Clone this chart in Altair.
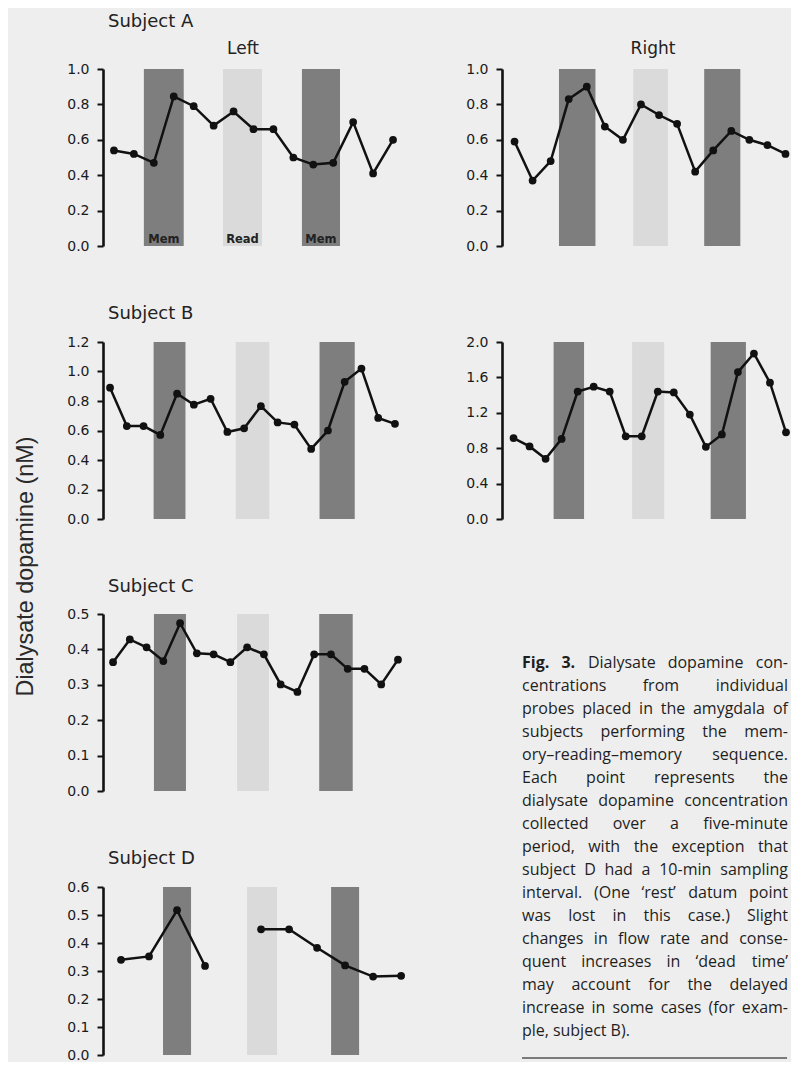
import altair as alt
import pandas as pd

# ---------------- data ----------------
# sample index runs 1..n (5-min samples; subject D: 10-min samples, one lost)
a_left = [0.54, 0.52, 0.47, 0.845, 0.79, 0.68, 0.76, 0.66, 0.66, 0.50, 0.46, 0.47, 0.70, 0.41, 0.60]
a_right = [0.59, 0.37, 0.48, 0.83, 0.90, 0.675, 0.60, 0.80, 0.74, 0.69, 0.42, 0.54, 0.65, 0.60, 0.57, 0.52]
b_left = [0.89, 0.63, 0.63, 0.57, 0.85, 0.775, 0.815, 0.59, 0.615, 0.765, 0.655, 0.64, 0.475, 0.60, 0.93, 1.02, 0.685, 0.645]
b_right = [0.915, 0.82, 0.68, 0.905, 1.44, 1.495, 1.44, 0.935, 0.935, 1.44, 1.43, 1.18, 0.815, 0.955, 1.66, 1.87, 1.54, 0.98]
c_left = [0.364, 0.428, 0.406, 0.367, 0.474, 0.389, 0.386, 0.364, 0.406, 0.386, 0.301, 0.28, 0.386, 0.386, 0.345, 0.345, 0.301, 0.371]
d_left = [0.34, 0.352, 0.517, 0.318, None, 0.449, 0.449, 0.383, 0.32, 0.28, 0.283]

# task periods in sample-index units: memory, reading, memory
period_kinds = ["Mem", "Read", "Mem"]
a_left_periods = [(2.5, 4.5), (6.47, 8.43), (10.43, 12.34)]
a_right_periods = [(3.46, 5.48), (7.57, 9.49), (11.5, 13.5)]
b_left_periods = [(3.6, 5.5), (8.5, 10.5), (13.5, 15.6)]
b_right_periods = [(3.5, 5.4), (8.4, 10.4), (13.3, 15.5)]
c_periods = [(3.44, 5.35), (8.4, 10.3), (13.3, 15.3)]
d_periods = [(2.5, 3.5), (5.5, 6.57), (8.5, 9.5)]

y_title = "Dialysate dopamine (nM)"
caption_lines = [
    "Fig. 3. Dialysate dopamine con-",
    "centrations from individual",
    "probes placed in the amygdala of",
    "subjects performing the mem-",
    "ory–reading–memory sequence.",
    "Each point represents the",
    "dialysate dopamine concentration",
    "collected over a five-minute",
    "period, with the exception that",
    "subject D had a 10-min sampling",
    "interval. (One ‘rest’ datum point",
    "was lost in this case.) Slight",
    "changes in flow rate and conse-",
    "quent increases in ‘dead time’",
    "may account for the delayed",
    "increase in some cases (for exam-",
    "ple, subject B).",
]

# ---------------- styling ----------------
BG = "#eeeeee"
MEM = "#7e7e7e"
READ = "#dadada"
INK = "#111111"
TFONT = "DejaVu Sans"


def title_layer(text, x, y, size, align="left", opacity=1.0, weight="normal"):
    return alt.Chart(pd.DataFrame({"t": [text]})).mark_text(
        align=align, baseline="alphabetic", fontSize=size, font=TFONT,
        color="#222222", opacity=opacity, fontWeight=weight
    ).encode(text="t:N", x=alt.value(x), y=alt.value(y))


def panel(values, periods, ymax, ystep, xdom, width, height, texts=(), labels=False):
    rows = []
    seg = 0
    for k, v in enumerate(values, start=1):
        if v is None:
            seg += 1
            continue
        rows.append({"i": k, "v": v, "seg": seg})
    pts = pd.DataFrame(rows)
    bars = pd.DataFrame({
        "x1": [p[0] for p in periods],
        "x2": [p[1] for p in periods],
        "mid": [(p[0] + p[1]) / 2 for p in periods],
        "top": [ymax] * len(periods),
        "bottom": [0.0] * len(periods),
        "kind": period_kinds,
    })
    n = int(round(ymax / ystep))
    ticks = [round(k * ystep, 3) for k in range(n + 1)]
    xs = alt.Scale(domain=list(xdom), nice=False, zero=False)
    ys = alt.Scale(domain=[0, ymax], nice=False, zero=True)
    yax = alt.Axis(values=ticks, format=".1f", title=None, grid=False)

    rect = alt.Chart(bars).mark_rect().encode(
        x=alt.X("x1:Q", scale=xs, axis=None),
        x2="x2:Q",
        y=alt.Y("top:Q", scale=ys, axis=yax),
        y2="bottom:Q",
        color=alt.Color("kind:N", scale=alt.Scale(domain=["Mem", "Read"], range=[MEM, READ]), legend=None),
    )
    line = alt.Chart(pts).mark_line(color=INK, strokeWidth=2.5).encode(
        x=alt.X("i:Q", scale=xs, axis=None),
        y=alt.Y("v:Q", scale=ys, axis=yax),
        detail="seg:N",
    )
    dots = alt.Chart(pts).mark_circle(size=60, color=INK, opacity=1).encode(
        x=alt.X("i:Q", scale=xs, axis=None),
        y=alt.Y("v:Q", scale=ys, axis=yax),
    )
    layers = [rect, line, dots]
    if labels:
        layers.append(alt.Chart(bars).mark_text(
            baseline="bottom", dy=-1, fontSize=11.5, fontWeight="bold", font=TFONT, color="#222222"
        ).encode(
            x=alt.X("mid:Q", scale=xs, axis=None),
            y=alt.Y("bottom:Q", scale=ys, axis=yax),
            text="kind:N",
        ))
    layers += list(texts)
    return alt.layer(*layers).properties(width=width, height=height)


pA_L = panel(a_left, a_left_periods, 1.0, 0.2, (0.45, 15.4), 298, 177,
             texts=[title_layer("Subject A", 5, -42, 18), title_layer("Left", 140, -15, 17, align="center")],
             labels=True)
pA_R = panel(a_right, a_right_periods, 1.0, 0.2, (0.306, 16.25), 288, 177,
             texts=[title_layer("Subject A", 5, -40, 18, opacity=0), title_layer("Right", 151, -15, 17, align="center")])
pB_L = panel(b_left, b_left_periods, 1.2, 0.2, (0.58, 18.36), 298, 177,
             texts=[title_layer("Subject B", 5, -23, 18)])
pB_R = panel(b_right, b_right_periods, 2.0, 0.4, (0.28, 18.25), 288, 177)
pC = panel(c_left, c_periods, 0.5, 0.1, (0.40, 18.18), 298, 177,
           texts=[title_layer("Subject C", 5, -22, 18)])
pD = panel(d_left, d_periods, 0.6, 0.1, (0.357, 11.21), 304, 168,
           texts=[title_layer("Subject D", 5, -23, 18)])

# ---------------- caption (justified by word placement) ----------------
CW = {" ": .26, "a": .556, "b": .613, "c": .476, "d": .613, "e": .561, "f": .339, "g": .548, "h": .614,
      "i": .253, "j": .253, "k": .525, "l": .253, "m": .93, "n": .614, "o": .604, "p": .613, "q": .613,
      "r": .408, "s": .477, "t": .353, "u": .614, "v": .501, "w": .778, "x": .524, "y": .502, "z": .477,
      "D": .716, "E": .549, "F": .525, "O": .781, "S": .543, "B": .641, ".": .266, ",": .244, "-": .322,
      "–": .5, "(": .284, ")": .284, "‘": .193, "’": .193}
FS = 16
CX0, CX1 = 20, 286
CY0, CDY = 60, 23


def est(word, bold=False):
    w = sum(CW.get(ch, 0.572 if ch.isdigit() else 0.55) for ch in word) * FS
    return w * (1.07 if bold else 1.0)


cap_rows = []
for li, line_txt in enumerate(caption_lines):
    words = line_txt.split(" ")
    bolds = [li == 0 and wi < 2 for wi in range(len(words))]
    widths = [est(w, b) for w, b in zip(words, bolds)]
    last = li == len(caption_lines) - 1
    if last or len(words) == 1:
        gap = est(" ")
    else:
        gap = (CX1 - CX0 - sum(widths)) / (len(words) - 1)
    x = CX0
    for wi, (w, b, wd) in enumerate(zip(words, bolds, widths)):
        right = (not last) and wi == len(words) - 1 and len(words) > 1
        cap_rows.append({"w": w, "px": CX1 if right else x, "py": CY0 + CDY * li,
                         "kind": "bold" if b else ("right" if right else "left")})
        x += wd + gap
cap_df = pd.DataFrame(cap_rows)


def cap_text(kind, align, weight):
    return alt.Chart(cap_df).transform_filter(alt.datum.kind == kind).mark_text(
        align=align, baseline="alphabetic", fontSize=FS, font="Open Sans", fontWeight=weight, color="#1e1e1e"
    ).encode(x=alt.X("px:Q", scale=None, axis=None), y=alt.Y("py:Q", scale=None, axis=None), text="w:N")


cap_rule = alt.Chart(pd.DataFrame({"r": [0]})).mark_rule(color="#555555", strokeWidth=1.5).encode(
    x=alt.value(CX0), x2=alt.value(CX1 - 1), y=alt.value(450))
caption = alt.layer(cap_text("left", "left", "normal"), cap_text("right", "right", "normal"),
                    cap_text("bold", "left", "bold"), cap_rule).properties(width=288, height=452)

left_col = alt.vconcat(pA_L, pB_L, pC, pD, spacing=52).properties(
    title=alt.Title(y_title, orient="left", anchor="middle", fontSize=23.4, font="Liberation Sans",
                    fontWeight="normal", color="#2a2a2a", offset=28, dx=-29)
)
right_col = alt.vconcat(pA_R, pB_R, caption, spacing=82)

chart = alt.hconcat(left_col, right_col, spacing=58).properties(
    background=BG,
    padding={"left": 6, "top": 5, "right": 0, "bottom": 0},
).configure_view(stroke=None).configure_axis(
    domainColor="#111111", domainWidth=2.6, tickColor="#111111", tickWidth=2, tickSize=6,
    labelFont=TFONT, labelFontSize=14, labelColor="#1a1a1a", labelPadding=8, grid=False,
)

chart.save("out.html", embed_options={"renderer": "svg", "actions": False})
